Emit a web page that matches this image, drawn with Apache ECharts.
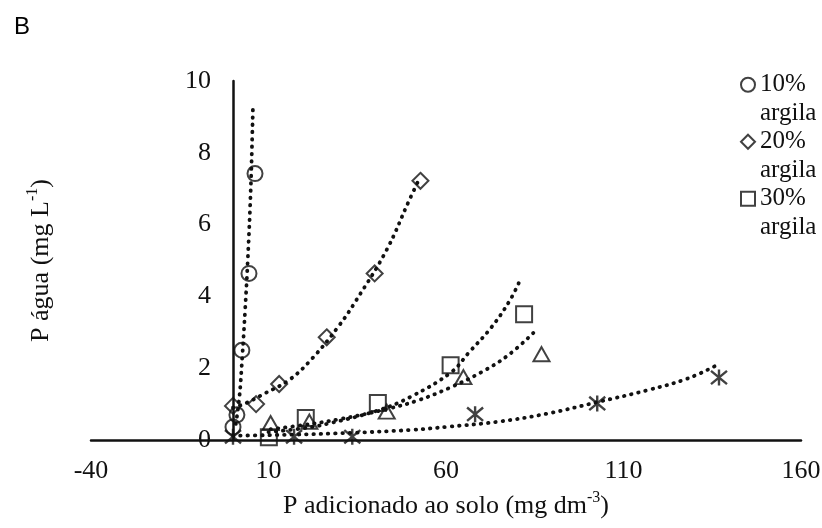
<!DOCTYPE html>
<html>
<head>
<meta charset="utf-8">
<script src="https://cdn.jsdelivr.net/npm/echarts@6/dist/echarts.min.js"></script>
<style>
html, body { margin: 0; padding: 0; background: #ffffff; }
#chart { width: 822px; height: 528px; }
</style>
</head>
<body>
<div id="chart"></div>
<script>
// Measured points: [P added to soil (mg dm-3), P in water (mg L-1)]
const clay10 = [[0, 0.36], [1.1, 0.7], [2.5, 2.5], [4.5, 4.64], [6.2, 7.42]];
const clay20 = [[0, 0.95], [6.5, 1.0], [13, 1.56], [26.4, 2.86], [39.9, 4.64], [52.8, 7.22]];
const clay30 = [[10.1, 0.08], [20.5, 0.61], [40.8, 1.03], [61.3, 2.08], [82, 3.5]];
const clay40 = [[10.6, 0.47], [21.5, 0.51], [43.3, 0.79], [64.9, 1.75], [86.9, 2.39]];
const clay50 = [[0, 0.09], [17.2, 0.09], [33.6, 0.09], [68.2, 0.72], [102.6, 1.02], [136.9, 1.74]];

// Fitted trend curves (dotted)
const trend10 = [[0.8, 0.45], [1.8, 1.2], [2.6, 2.3], [3.4, 3.6], [4.2, 5.1], [5.0, 7.0], [5.6, 9.2]];
const trend20 = [[0, 0.9], [3.7, 1.03], [9, 1.3], [15.8, 1.67], [22.3, 2.27], [29.9, 3.19], [34.7, 3.89], [43.2, 5.28], [49.6, 6.67], [52.6, 7.3]];
const trend30 = [[10, 0.22], [20, 0.33], [27, 0.46], [41, 0.83], [50, 1.2], [61.5, 1.89], [66.3, 2.42], [72.8, 3.14], [78, 3.89], [80.8, 4.44]];
const trend40 = [[10.6, 0.3], [20, 0.42], [30, 0.58], [43.3, 0.86], [52, 1.1], [60.7, 1.44], [70, 1.89], [77.5, 2.36], [84.8, 3.0]];
const trend50 = [[0, 0.12], [17, 0.15], [33.5, 0.2], [50, 0.28], [60.7, 0.37], [74.7, 0.51], [88.8, 0.74], [102.8, 1.06], [116.9, 1.39], [128, 1.71], [136.2, 2.08]];

const xTickLabels = [-40, 10, 60, 110, 160];
const yTickLabels = [0, 2, 4, 6, 8, 10];

const seriesNames = ['10% argila', '20% argila', '30% argila', 'Série 4', 'Série 5'];

const INK = '#111111';
const SERIF = '"Liberation Serif", "Times New Roman", serif';

const asterisk = 'path://M0,0L10,10M10,0L0,10M5,-1L5,11';

function markerSeries(name, data, symbol, size, border) {
  return {
    name: name,
    type: 'scatter',
    data: data,
    symbol: symbol,
    symbolSize: size,
    z: 5,
    itemStyle: { color: 'rgba(255,255,255,0)', borderColor: INK, borderWidth: border || 2 },
    emphasis: { disabled: true }
  };
}

function trendSeries(data) {
  return {
    type: 'line',
    data: data,
    smooth: 0.4,
    showSymbol: false,
    symbol: 'none',
    z: 3,
    silent: true,
    lineStyle: { color: INK, width: 3.8, type: [0.5, 6.8], cap: 'round' }
  };
}

const supRich = {
  t: { fontFamily: SERIF, fontSize: 26, color: INK },
  s: { fontFamily: SERIF, fontSize: 16, color: INK, padding: [0, 0, 16, 0] }
};

const LEGEND_LINE = 28.5;

const chart = echarts.init(document.getElementById('chart'), null, { renderer: 'canvas' });

chart.setOption({
  animation: false,
  backgroundColor: '#ffffff',
  title: {
    text: 'B',
    left: 9,
    top: 10,
    textStyle: { fontFamily: '"Liberation Sans", Arial, sans-serif', fontSize: 24, fontWeight: 'normal', color: '#000' }
  },
  legend: {
    orient: 'vertical',
    left: 735,
    top: 37,
    itemWidth: 14,
    itemHeight: 14,
    itemGap: -LEGEND_LINE,
    data: seriesNames.slice(0, 3),
    // blank first line keeps the marker level with the percentage line
    formatter: function (n) { return '\n' + n.replace(' ', '\n'); },
    textStyle: { fontFamily: SERIF, fontSize: 25, color: INK, lineHeight: LEGEND_LINE },
    selectedMode: false
  },
  grid: { left: 91, right: 21, top: 81, bottom: 88, containLabel: false, outerBoundsMode: 'none' },
  xAxis: {
    type: 'value',
    min: -40,
    max: 160,
    splitLine: { show: false },
    axisTick: { show: false },
    axisLine: { lineStyle: { color: INK, width: 2.5 } },
    axisLabel: {
      customValues: xTickLabels,
      margin: 18,
      fontFamily: SERIF,
      fontSize: 26,
      color: INK
    },
    name: '{t|P adicionado ao solo (mg dm}{s|-3}{t|)}',
    nameLocation: 'middle',
    nameGap: 50,
    nameTextStyle: { rich: supRich }
  },
  yAxis: {
    type: 'value',
    min: 0,
    max: 10,
    interval: 2,
    offset: -142,
    splitLine: { show: false },
    axisTick: { show: false },
    axisLine: { onZero: false, lineStyle: { color: INK, width: 2.5 } },
    axisLabel: {
      customValues: yTickLabels,
      margin: 22,
      fontFamily: SERIF,
      fontSize: 26,
      color: INK
    },
    name: '{t|P água (mg L}{s|-1}{t|)}',
    nameLocation: 'middle',
    nameRotate: 90,
    nameGap: 176,
    nameTextStyle: { rich: supRich }
  },
  series: [
    trendSeries(trend10),
    trendSeries(trend20),
    trendSeries(trend30),
    trendSeries(trend40),
    trendSeries(trend50),
    markerSeries(seriesNames[0], clay10, 'circle', 15),
    markerSeries(seriesNames[1], clay20, 'diamond', [16, 16]),
    markerSeries(seriesNames[2], clay30, 'rect', 16),
    markerSeries(seriesNames[3], clay40, 'triangle', [16, 14]),
    markerSeries(seriesNames[4], clay50, asterisk, 16, 2.4)
  ]
});
</script>
</body>
</html>
